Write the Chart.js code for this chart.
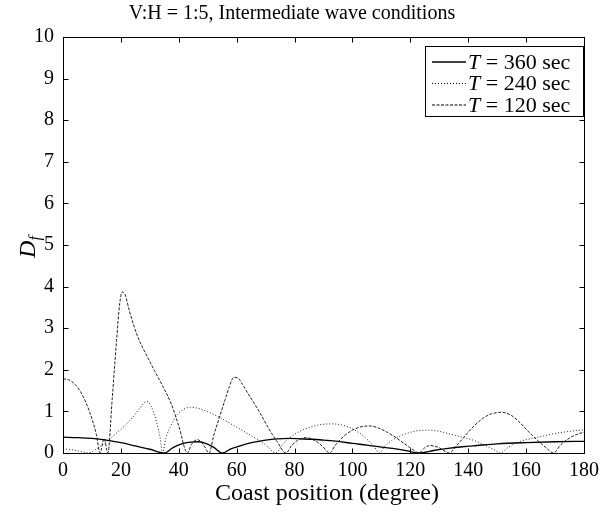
<!DOCTYPE html>
<html>
<head>
<meta charset="utf-8">
<script src="https://cdn.jsdelivr.net/npm/chart.js@4.4.0/dist/chart.umd.min.js"></script>
<style>
  html, body { margin:0; padding:0; background:#fff; }
  #wrap { position:relative; width:605px; height:517px; }
</style>
</head>
<body>
<div id="wrap"><canvas id="chart"></canvas></div>
<script>
const xTicks = [0, 20, 40, 60, 80, 100, 120, 140, 160, 180];
const yTicks = [0, 1, 2, 3, 4, 5, 6, 7, 8, 9, 10];

// T = 360 sec
const deg360 = [0, 5, 10, 15, 20, 25, 30, 35, 38, 41, 44, 46.5, 49, 52, 55, 58, 62, 66, 70, 74,
  78, 82, 86, 90, 95, 100, 105, 110, 115, 119, 123, 128, 133, 138, 143, 150, 160, 170, 180];
const df360 = [0.38, 0.37, 0.35, 0.31, 0.25, 0.17, 0.09, 0, 0.13, 0.22, 0.26, 0.27, 0.24, 0.14, 0, 0.1, 0.19, 0.26, 0.31, 0.34,
  0.35, 0.34, 0.33, 0.31, 0.28, 0.23, 0.19, 0.14, 0.1, 0.05, 0, 0.06, 0.11, 0.15, 0.18, 0.22, 0.25, 0.27, 0.28];

// T = 240 sec
const deg240 = [0, 3, 6, 8.7, 12, 15, 18, 21, 24, 26.5, 28.8, 30.5, 32.3, 33.6, 34.4, 35.5, 37, 39, 41, 44,
  47, 50, 54, 59, 63, 67, 70.5, 73.5, 76, 79, 83, 88, 93, 98, 102, 105.5, 107.5, 109.3, 111, 114,
  118, 122, 126, 130, 134, 138.5, 142, 146, 149, 151, 154, 158, 162, 166, 170, 175, 180];
const df240 = [0.1, 0.08, 0.04, 0, 0.12, 0.27, 0.45, 0.63, 0.85, 1.07, 1.24, 1.12, 0.75, 0.35, 0, 0.35, 0.62, 0.88, 1.02, 1.1,
  1.07, 0.99, 0.86, 0.66, 0.5, 0.33, 0.17, 0, 0.22, 0.4, 0.56, 0.67, 0.7, 0.64, 0.5, 0.3, 0.15, 0, 0.15, 0.32,
  0.45, 0.53, 0.55, 0.52, 0.45, 0.37, 0.3, 0.18, 0.08, 0, 0.15, 0.28, 0.35, 0.41, 0.47, 0.52, 0.56];

// T = 120 sec
const deg120 = [0, 2, 4, 6, 8, 10, 11.5, 12.8, 14.2, 15.5, 17, 18.5, 19.6, 20.5, 21.5, 23, 25.9, 28.5, 31.6, 34.5,
  37.4, 40, 43, 44.5, 46.5, 48.5, 50.5, 52, 54, 56, 57.5, 59, 60.5, 62, 64, 66, 68, 70, 72, 74,
  77, 79, 81, 84, 87, 89.5, 92.2, 94, 97, 100, 103, 106, 109, 112, 115, 118, 120.5, 123, 125, 127,
  129.5, 133.5, 136, 139, 142, 145, 148, 151.5, 155, 158, 161, 164, 167, 169.4, 172, 175, 178, 180];
const df120 = [1.78, 1.76, 1.66, 1.48, 1.2, 0.82, 0.45, 0, 0.35, 0, 1.3, 2.7, 3.6, 3.87, 3.8, 3.4, 2.78, 2.4, 1.98, 1.6,
  1.18, 0.65, 0, 0.22, 0.32, 0.2, 0, 0.4, 0.85, 1.28, 1.6, 1.82, 1.8, 1.65, 1.42, 1.2, 0.97, 0.72, 0.48, 0.27,
  0, 0.18, 0.3, 0.37, 0.3, 0.17, 0, 0.18, 0.4, 0.55, 0.63, 0.65, 0.6, 0.5, 0.37, 0.22, 0.1, 0, 0.13, 0.18,
  0.14, 0, 0.18, 0.42, 0.65, 0.83, 0.94, 0.98, 0.9, 0.72, 0.5, 0.3, 0.12, 0, 0.2, 0.36, 0.46, 0.5];

const seriesLabels = ['360', '240', '120'];
const seriesDash = [[], [1, 2], [3, 1.5]];
const seriesWidth = [1.3, 1, 1];

const SERIF = '"Liberation Serif", "Times New Roman", serif';

const pts = (xs, ys) => xs.map((d, i) => ({ x: d, y: ys[i] }));

const framePlugin = {
  id: 'frame',
  afterDraw(chart) {
    const { ctx, chartArea: a, scales: { x, y } } = chart;
    ctx.save();
    ctx.strokeStyle = '#000';
    ctx.lineWidth = 1;
    const L = Math.round(a.left) + 0.5, R = Math.round(a.right) + 0.5;
    const T = Math.round(a.top) + 0.5, B = Math.round(a.bottom) + 0.5;
    ctx.strokeRect(L, T, R - L, B - T);
    ctx.beginPath();
    xTicks.forEach(v => {
      const px = Math.round(x.getPixelForValue(v)) + 0.5;
      ctx.moveTo(px, B); ctx.lineTo(px, B - 5);
      ctx.moveTo(px, T); ctx.lineTo(px, T + 5);
    });
    yTicks.forEach(v => {
      const py = Math.round(y.getPixelForValue(v)) + 0.5;
      ctx.moveTo(L, py); ctx.lineTo(L + 5, py);
      ctx.moveTo(R, py); ctx.lineTo(R - 5, py);
    });
    ctx.stroke();

    // title
    ctx.fillStyle = '#000';
    ctx.textAlign = 'center';
    ctx.textBaseline = 'alphabetic';
    ctx.font = '20px ' + SERIF;
    ctx.fillText('V:H = 1:5, Intermediate wave conditions', 292, 19);

    // x axis title
    ctx.font = '24px ' + SERIF;
    ctx.fillText('Coast position (degree)', 327, 500);

    // y axis title D_f
    ctx.save();
    ctx.translate(35, 247);
    ctx.rotate(-Math.PI / 2);
    ctx.textAlign = 'left';
    ctx.font = 'italic 24px ' + SERIF;
    const wD = ctx.measureText('D').width;
    ctx.font = 'italic 16px ' + SERIF;
    const wf = ctx.measureText('f').width;
    const start = -(wD + wf) / 2;
    ctx.font = 'italic 24px ' + SERIF;
    ctx.fillText('D', start, 0);
    ctx.font = 'italic 16px ' + SERIF;
    ctx.fillText('f', start + wD, 5);
    ctx.restore();

    // legend
    const bx = 425.5, by = 46.5, bw = 158, bh = 70;
    ctx.fillStyle = '#fff';
    ctx.fillRect(bx, by, bw, bh);
    ctx.strokeRect(bx, by, bw, bh);
    seriesLabels.forEach((lab, i) => {
      const ry = 62 + i * 21.5;
      ctx.save();
      ctx.setLineDash(seriesDash[i]);
      ctx.lineWidth = seriesWidth[i];
      ctx.beginPath();
      ctx.moveTo(432, ry); ctx.lineTo(466, ry);
      ctx.stroke();
      ctx.restore();
      ctx.fillStyle = '#000';
      ctx.textAlign = 'left';
      ctx.textBaseline = 'middle';
      ctx.font = 'italic 22px ' + SERIF;
      ctx.fillText('T', 468, ry + 1);
      const wT = ctx.measureText('T').width;
      ctx.font = '22px ' + SERIF;
      ctx.fillText(' = ' + lab + ' sec', 468 + wT, ry + 1);
    });
    ctx.restore();
  }
};

new Chart(document.getElementById('chart'), {
  type: 'line',
  data: {
    datasets: [0, 1, 2].map(i => ({
      label: 'T = ' + seriesLabels[i] + ' sec',
      data: i === 0 ? pts(deg360, df360) : i === 1 ? pts(deg240, df240) : pts(deg120, df120),
      borderColor: i === 0 ? '#000' : '#222',
      borderWidth: seriesWidth[i],
      borderDash: seriesDash[i],
      pointRadius: 0,
      fill: false,
      cubicInterpolationMode: 'monotone'
    }))
  },
  options: {
    responsive: true,
    maintainAspectRatio: false,
    animation: false,
    layout: { padding: { left: 0, right: 17, top: 37, bottom: 0 } },
    plugins: { legend: { display: false }, tooltip: { enabled: false }, title: { display: false } },
    scales: {
      x: {
        type: 'linear', min: 0, max: 180,
        afterBuildTicks: s => { s.ticks = xTicks.map(v => ({ value: v })); },
        afterFit: s => { s.height = 64; },
        grid: { display: false, drawTicks: false },
        border: { display: false },
        ticks: { color: '#000', font: { family: SERIF, size: 20 }, padding: 6, maxRotation: 0, autoSkip: false }
      },
      y: {
        type: 'linear', min: 0, max: 10,
        afterBuildTicks: s => { s.ticks = yTicks.map(v => ({ value: v })); },
        afterFit: s => { s.width = 63; },
        grid: { display: false, drawTicks: false },
        border: { display: false },
        ticks: { color: '#000', font: { family: SERIF, size: 20 }, padding: 9, autoSkip: false }
      }
    }
  },
  plugins: [framePlugin]
});
</script>
</body>
</html>
